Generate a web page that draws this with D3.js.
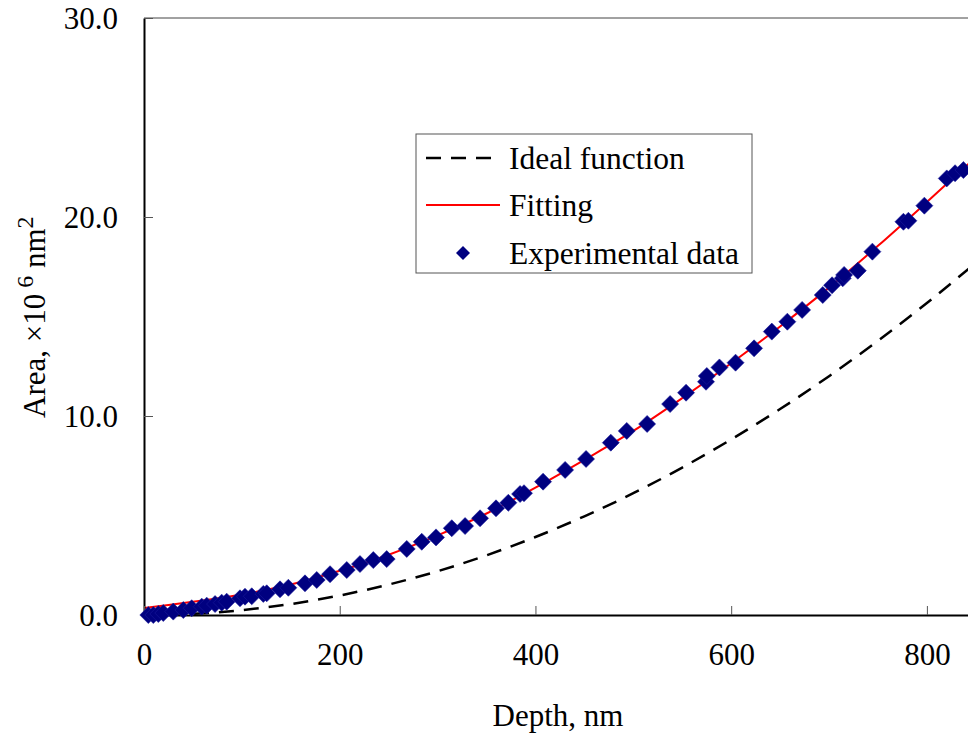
<!DOCTYPE html>
<html>
<head>
<meta charset="utf-8">
<script src="https://cdn.jsdelivr.net/npm/d3@7"></script>
<style>
  html, body { margin: 0; padding: 0; background: #fff; }
  svg { display: block; }
  text { font-family: "Liberation Serif", "Times New Roman", serif; fill: #000; }
</style>
</head>
<body>
<svg id="chart" width="968" height="737"></svg>
<script>
// ---- data (Area in 10^6 nm^2, depth in nm) ----
const expDepth = [4.4, 9.5, 14.6, 19.7, 29.9, 40.2, 48.7, 59.0, 64.1, 72.6, 79.4, 84.5, 98.1, 103.2, 110.1,
  121.9, 125.4, 139.0, 147.5, 164.5, 176.5, 190.1, 207.2, 220.7, 234.3, 248.0, 268.5, 283.8, 298.4,
  314.5, 328.1, 343.4, 359.7, 372.3, 384.3, 388.3, 407.8, 430.3, 451.7, 477.0, 493.3, 514.1, 537.6,
  553.9, 574.3, 575.1, 588.0, 604.5, 623.4, 641.5, 657.4, 672.5, 693.6, 703.1, 714.0, 715.4, 729.4,
  744.3, 776.0, 781.1, 797.4, 820.3, 828.8, 837.3];
const expArea = [0.00, 0.00, 0.05, 0.10, 0.17, 0.25, 0.34, 0.42, 0.47, 0.55, 0.62, 0.67, 0.84, 0.92, 0.94,
  1.06, 1.09, 1.29, 1.37, 1.59, 1.76, 2.05, 2.26, 2.56, 2.76, 2.81, 3.32, 3.68, 3.90,
  4.36, 4.47, 4.86, 5.36, 5.64, 6.08, 6.12, 6.70, 7.29, 7.84, 8.66, 9.25, 9.60, 10.60,
  11.17, 11.72, 12.01, 12.44, 12.68, 13.40, 14.24, 14.74, 15.33, 16.08, 16.57, 16.92, 17.09, 17.30,
  18.26, 19.76, 19.81, 20.57, 21.94, 22.20, 22.36];

const fitDepth = [0, 25, 50, 100, 150, 200, 250, 300, 350, 400, 450, 500, 550, 600, 650, 700, 750, 800, 850];
const fitArea  = [0.35, 0.50, 0.66, 1.03, 1.53, 2.22, 3.03, 4.00, 5.10, 6.40, 7.80, 9.25, 10.90, 12.65, 14.50, 16.45, 18.55, 20.75, 23.00];

const idealDepth = [0, 50, 100, 150, 200, 250, 300, 350, 400, 450, 500, 550, 600, 650, 700, 750, 800, 850];
const idealArea  = [0, 0.06, 0.245, 0.55, 0.98, 1.53, 2.20, 3.00, 3.92, 4.96, 6.12, 7.41, 8.82, 10.35, 12.00, 13.78, 15.68, 17.70];

const xTicks = [0, 200, 400, 600, 800];
const yTicks = [0, 10, 20, 30];
const legendLabels = ["Ideal function", "Fitting", "Experimental data"];

// ---- layout ----
const svg = d3.select("#chart");
const W = 968;
const x = d3.scaleLinear().domain([0, 842]).range([144, 968]);
const y = d3.scaleLinear().domain([0, 30]).range([615, 18]);

const plot = svg.append("g");

const line = d3.line().x(d => x(d[0])).y(d => y(d[1])).curve(d3.curveMonotoneX);
plot.append("path")
  .datum(d3.zip(idealDepth, idealArea))
  .attr("d", line)
  .attr("fill", "none").attr("stroke", "#000").attr("stroke-width", 2.5)
  .attr("stroke-dasharray", "15,10");

plot.append("path")
  .datum(d3.zip(fitDepth, fitArea))
  .attr("d", line)
  .attr("fill", "none").attr("stroke", "#ff0000").attr("stroke-width", 2);

svg.append("line").attr("x1", x(0)).attr("x2", W).attr("y1", y(30)).attr("y2", y(30))
  .attr("stroke", "#444").attr("stroke-width", 1);

const yAxis = d3.axisLeft(y).tickValues(yTicks).tickSize(-9).tickSizeOuter(0).tickFormat(d3.format(".1f")).tickPadding(26);
const gy = svg.append("g").attr("transform", `translate(${x(0)},0)`).call(yAxis);
gy.attr("font-family", null);
gy.select(".domain").attr("stroke", "#000").attr("stroke-width", 2);
gy.selectAll(".tick line").attr("stroke", "#555").attr("stroke-width", 1);
gy.selectAll(".tick text").attr("font-size", 31).attr("font-family", "Liberation Serif").attr("fill", "#000")
  .attr("dy", "0.34em");

const xAxis = d3.axisBottom(x).tickValues(xTicks).tickSize(-9).tickSizeOuter(0).tickFormat(d3.format("d")).tickPadding(28);
const gx = svg.append("g").attr("transform", `translate(0,${y(0)})`).call(xAxis);
gx.attr("font-family", null);
gx.select(".domain").attr("stroke", "#000").attr("stroke-width", 2);
gx.selectAll(".tick line").attr("stroke", "#555").attr("stroke-width", 1);
gx.selectAll(".tick text").attr("font-size", 31).attr("font-family", "Liberation Serif").attr("fill", "#000");

const dm = 8.5;
const diamond = (cx, cy, r) => `M${cx},${cy - r}L${cx + r},${cy}L${cx},${cy + r}L${cx - r},${cy}Z`;
svg.append("g").selectAll("path")
  .data(d3.zip(expDepth, expArea))
  .join("path")
  .attr("d", d => diamond(x(d[0]), y(d[1]), dm))
  .attr("fill", "#000080").attr("stroke", "#1a1a9a").attr("stroke-width", 0.6);

svg.append("text").attr("x", 558).attr("y", 726).attr("text-anchor", "middle")
  .attr("font-size", 31).text("Depth, nm");

const yl = svg.append("text").attr("transform", "translate(45,418) rotate(-90)")
  .attr("font-size", 31);
yl.append("tspan").text("Area, \u00d710");
yl.append("tspan").attr("dy", -12).attr("font-size", 24).text(" 6");
yl.append("tspan").attr("dy", 12).text(" nm");
yl.append("tspan").attr("dy", -12).attr("font-size", 24).text("2");

const lg = svg.append("g");
lg.append("rect").attr("x", 416).attr("y", 134).attr("width", 336).attr("height", 139)
  .attr("fill", "#fff").attr("stroke", "#555").attr("stroke-width", 1);
const rowY = [158, 205, 253];
lg.append("line").attr("x1", 426).attr("x2", 500).attr("y1", rowY[0]).attr("y2", rowY[0])
  .attr("stroke", "#000").attr("stroke-width", 2.5).attr("stroke-dasharray", "15,10");
lg.append("line").attr("x1", 426).attr("x2", 500).attr("y1", rowY[1]).attr("y2", rowY[1])
  .attr("stroke", "#ff0000").attr("stroke-width", 2);
lg.append("path").attr("d", diamond(463, rowY[2], 7)).attr("fill", "#000080");
lg.selectAll("text.lbl").data(legendLabels).join("text").attr("class", "lbl")
  .attr("x", 509).attr("y", (d, i) => rowY[i] + 11).attr("font-size", 31.5).text(d => d);
</script>
</body>
</html>
